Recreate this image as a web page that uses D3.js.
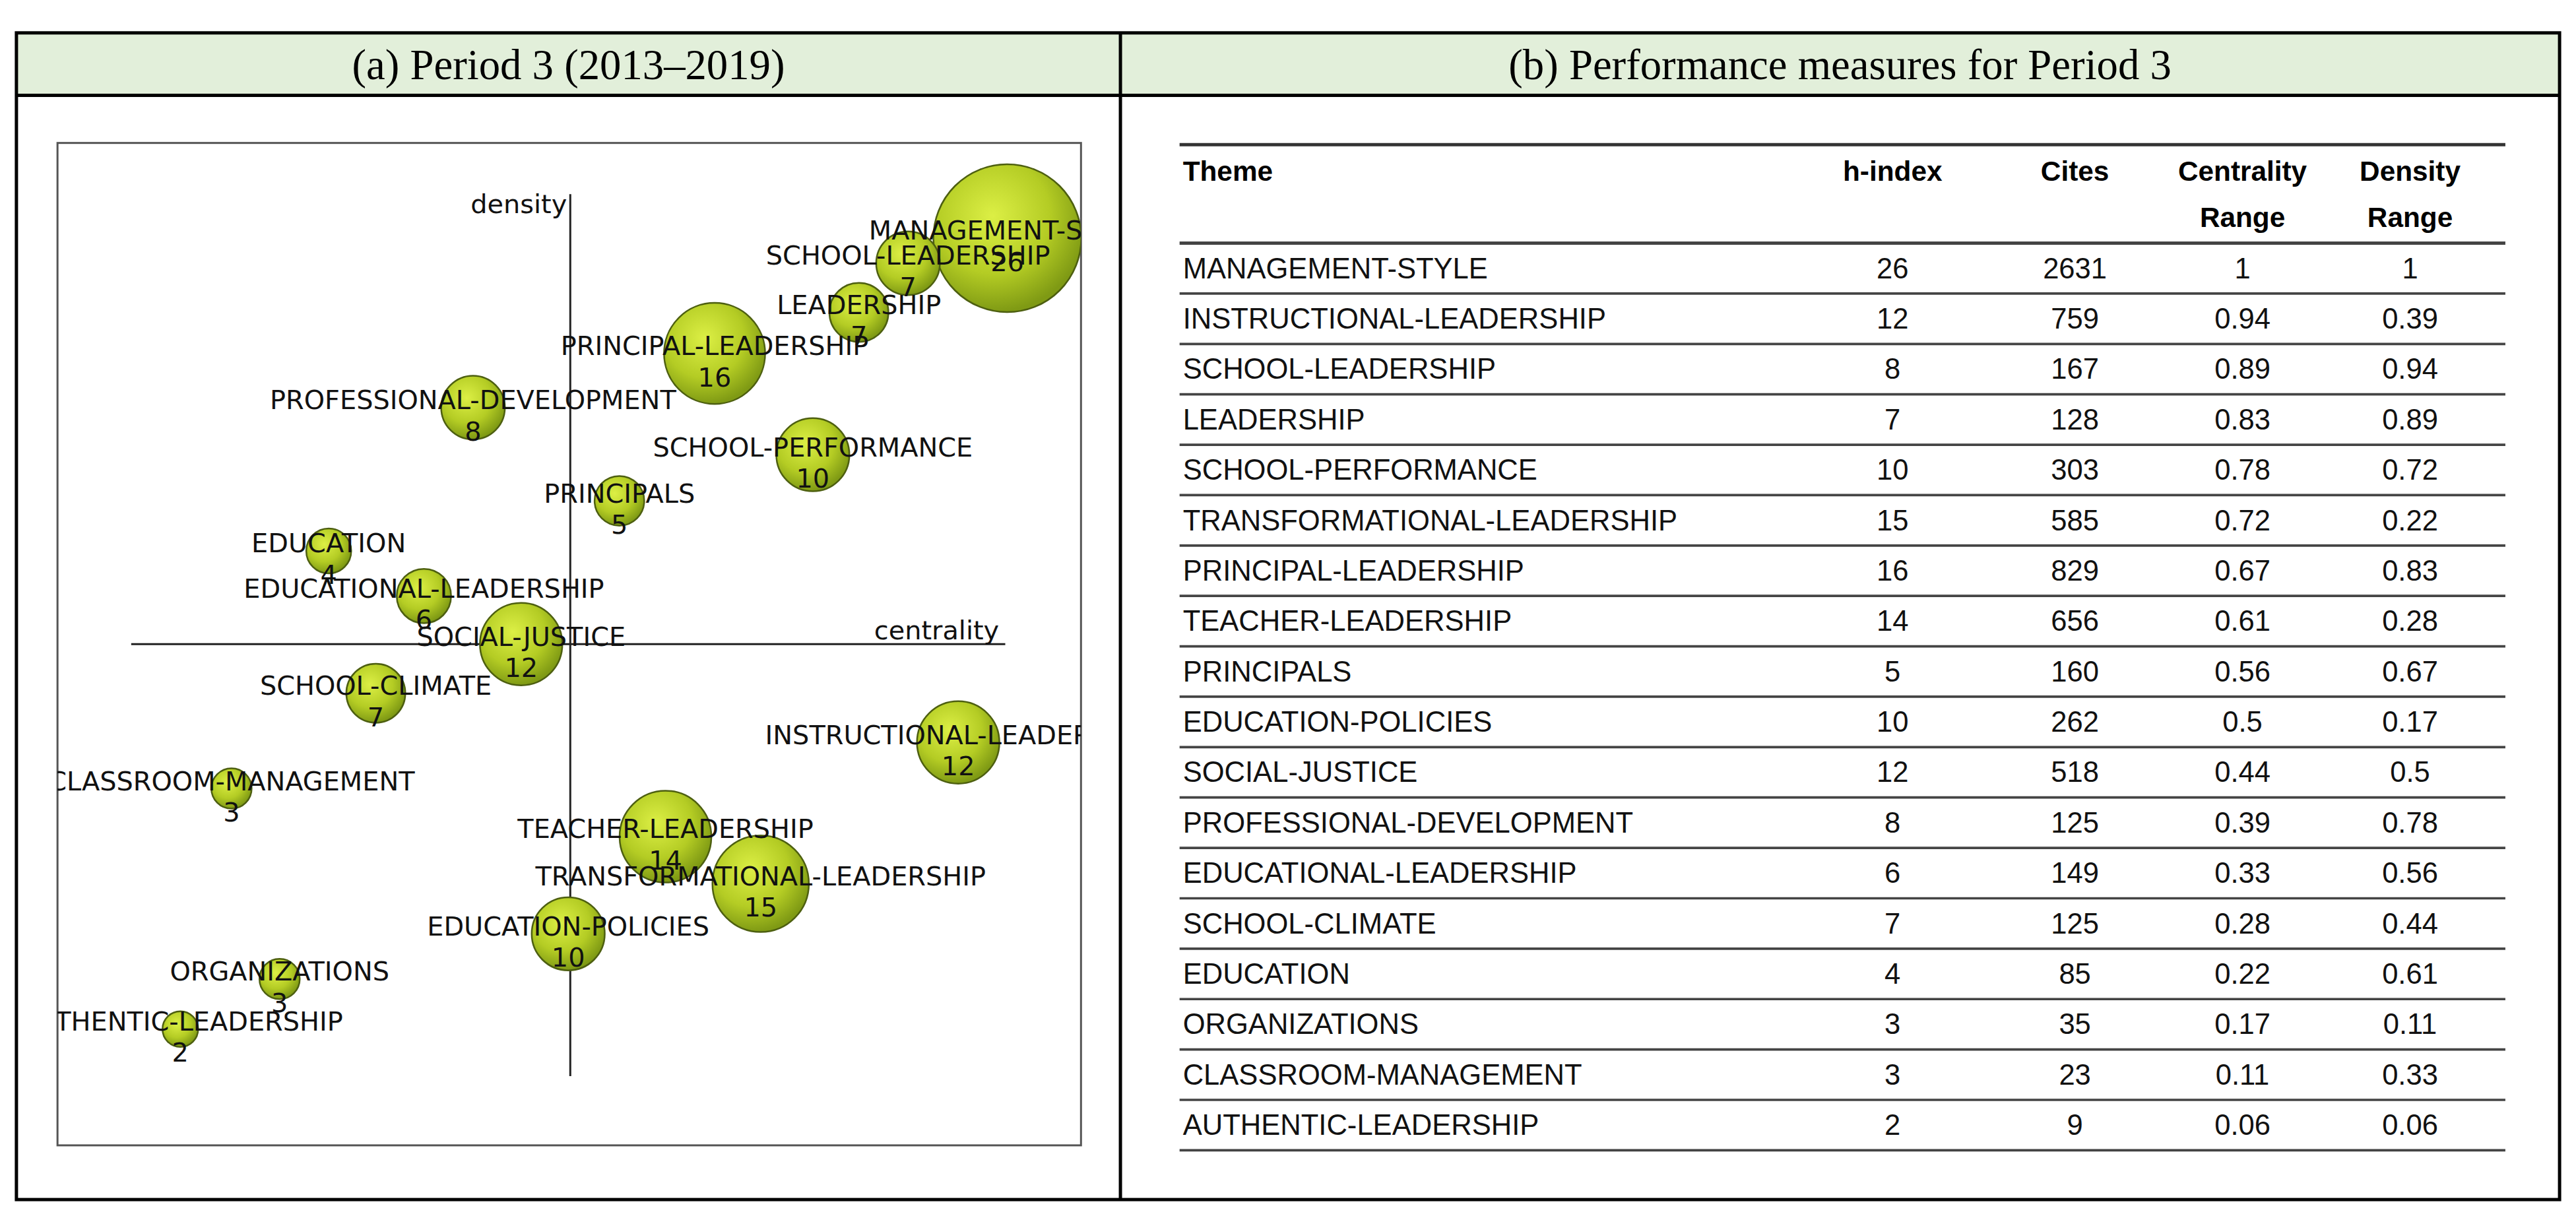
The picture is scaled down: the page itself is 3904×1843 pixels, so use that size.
<!DOCTYPE html>
<html><head><meta charset="utf-8">
<script src="https://cdn.jsdelivr.net/npm/d3@7"></script>
<style>html,body{margin:0;padding:0;background:#fff;overflow:hidden}</style>
</head><body>
<script>
// ---- data ----
const themes = ["MANAGEMENT-STYLE","INSTRUCTIONAL-LEADERSHIP","SCHOOL-LEADERSHIP","LEADERSHIP","SCHOOL-PERFORMANCE","TRANSFORMATIONAL-LEADERSHIP","PRINCIPAL-LEADERSHIP","TEACHER-LEADERSHIP","PRINCIPALS","EDUCATION-POLICIES","SOCIAL-JUSTICE","PROFESSIONAL-DEVELOPMENT","EDUCATIONAL-LEADERSHIP","SCHOOL-CLIMATE","EDUCATION","ORGANIZATIONS","CLASSROOM-MANAGEMENT","AUTHENTIC-LEADERSHIP"];
const hIndex = [26,12,8,7,10,15,16,14,5,10,12,8,6,7,4,3,3,2];
const mapNumbers = [26,12,7,7,10,15,16,14,5,10,12,8,6,7,4,3,3,2];
const cites = [2631,759,167,128,303,585,829,656,160,262,518,125,149,125,85,35,23,9];
const centralityRange = ["1","0.94","0.89","0.83","0.78","0.72","0.67","0.61","0.56","0.5","0.44","0.39","0.33","0.28","0.22","0.17","0.11","0.06"];
const densityRange = ["1","0.39","0.94","0.89","0.72","0.22","0.83","0.28","0.67","0.17","0.5","0.78","0.56","0.44","0.61","0.11","0.33","0.06"];
// strategic map positions (map units: x 0..100 left->right, y 0..100 bottom->top)
const mapX = [92.8,88.0,83.1,78.3,73.8,68.7,64.2,59.4,54.9,49.9,45.3,40.6,35.8,31.1,26.5,21.7,17.0,12.0];
const mapY = [90.5,40.2,88.0,83.1,68.9,26.1,79.0,30.8,64.3,21.1,50.0,73.6,54.8,45.1,59.3,16.6,35.6,11.6];
const tableHeaders = [["Theme",""],["h-index",""],["Cites",""],["Centrality","Range"],["Density","Range"]];

const W=1568,H=740;
const svg=d3.select("body").append("svg").attr("width",3904).attr("height",1843)
 .attr("viewBox",`0 0 ${W} ${H}`).attr("preserveAspectRatio","none");
const defs=svg.append("defs");
const g=defs.append("radialGradient").attr("id","bub").attr("cx","40%").attr("cy","35%").attr("r","65%");
g.append("stop").attr("offset","0%").attr("stop-color","#dcef45");
g.append("stop").attr("offset","60%").attr("stop-color","#b4cc24");
g.append("stop").attr("offset","100%").attr("stop-color","#7f9a14");
defs.append("clipPath").attr("id","plotclip").append("rect").attr("x",35).attr("y",87).attr("width",623).attr("height",610);

// frame
svg.append("rect").attr("x",10).attr("y",20).attr("width",1548).attr("height",38).attr("fill","#e2efda");
svg.append("rect").attr("x",10).attr("y",20).attr("width",1548).attr("height",710).attr("fill","none").attr("stroke","#000").attr("stroke-width",2);
svg.append("line").attr("x1",10).attr("x2",1558).attr("y1",58).attr("y2",58).attr("stroke","#000").attr("stroke-width",2);
svg.append("line").attr("x1",682).attr("x2",682).attr("y1",20).attr("y2",730).attr("stroke","#000").attr("stroke-width",2);
const serif="'Liberation Serif','DejaVu Serif',serif";
svg.append("text").attr("x",346).attr("y",48).attr("text-anchor","middle").attr("font-family",serif).attr("font-size",26).text("(a) Period 3 (2013–2019)");
svg.append("text").attr("x",1120).attr("y",48).attr("text-anchor","middle").attr("font-family",serif).attr("font-size",26).text("(b) Performance measures for Period 3");

// plot box
svg.append("rect").attr("x",35).attr("y",87).attr("width",623).attr("height",610).attr("fill","none").attr("stroke","#555").attr("stroke-width",1.2);
const x=d3.scaleLinear().domain([0,100]).range([35,658]);
const y=d3.scaleLinear().domain([0,100]).range([697,87]);
const r=d3.scaleLinear().domain([0,26]).range([8,45]);
const plot=svg.append("g").attr("clip-path","url(#plotclip)");
const ax=x(50.1), ay=y(50);
plot.append("line").attr("x1",ax).attr("x2",ax).attr("y1",y(94.9)).attr("y2",y(6.9)).attr("stroke","#222").attr("stroke-width",1.2);
plot.append("line").attr("x1",x(7.2)).attr("x2",x(92.6)).attr("y1",ay).attr("y2",ay).attr("stroke","#222").attr("stroke-width",1.2);
const sans="'DejaVu Sans',Verdana,sans-serif";
plot.append("text").attr("x",ax-2).attr("y",y(93)).attr("text-anchor","end").attr("font-family",sans).attr("font-size",16).attr("fill","#111").text("density");
plot.append("text").attr("x",x(92)).attr("y",ay-3).attr("text-anchor","end").attr("font-family",sans).attr("font-size",16).attr("fill","#111").text("centrality");
const idx=d3.range(themes.length).sort((a,b)=>hIndex[b]-hIndex[a]);
plot.selectAll("circle.b").data(idx).enter().append("circle").attr("cx",i=>x(mapX[i])).attr("cy",i=>y(mapY[i])).attr("r",i=>r(hIndex[i]))
 .attr("fill","url(#bub)").attr("stroke","#4d5f10").attr("stroke-width",1);
const labels=plot.append("g");
idx.forEach(i=>{
  const cx=x(mapX[i]), cy=y(mapY[i]);
  labels.append("text").attr("x",cx).attr("y",cy+1).attr("text-anchor","middle").attr("font-family",sans).attr("font-size",16).attr("fill","#111").text(themes[i]);
  labels.append("text").attr("x",cx).attr("y",cy+20).attr("text-anchor","middle").attr("font-family",sans).attr("font-size",16).attr("fill","#111").text(mapNumbers[i]);
});

// table
const tf="'Liberation Sans',Arial,sans-serif";
const colX=[720,1152,1263,1365,1467];
const rowY=d3.scaleBand().domain(d3.range(themes.length)).range([148,700]);
const t=svg.append("g");
t.append("line").attr("x1",718).attr("x2",1525).attr("y1",88).attr("y2",88).attr("stroke","#333").attr("stroke-width",2);
tableHeaders.forEach((h,j)=>{
  [0,1].forEach(k=>{ if(!h[k]) return;
    t.append("text").attr("x",colX[j]).attr("y",k?138:110).attr("text-anchor",j?"middle":"start")
     .attr("font-family",tf).attr("font-weight","bold").attr("font-size",17).text(h[k]);});
});
themes.forEach((th,i)=>{
  const yy=rowY(i)+rowY.bandwidth()/2+6;
  const vals=[th,hIndex[i],cites[i],centralityRange[i],densityRange[i]];
  vals.forEach((v,j)=>t.append("text").attr("x",colX[j]).attr("y",yy).attr("text-anchor",j?"middle":"start")
     .attr("font-family",tf).attr("font-size",17.5).attr("fill","#111").text(v));
  t.append("line").attr("x1",718).attr("x2",1525).attr("y1",rowY(i)).attr("y2",rowY(i)).attr("stroke","#444").attr("stroke-width",i===0?2:1.5);
});
t.append("line").attr("x1",718).attr("x2",1525).attr("y1",700).attr("y2",700).attr("stroke","#444").attr("stroke-width",1.5);
</script>
</body></html>
